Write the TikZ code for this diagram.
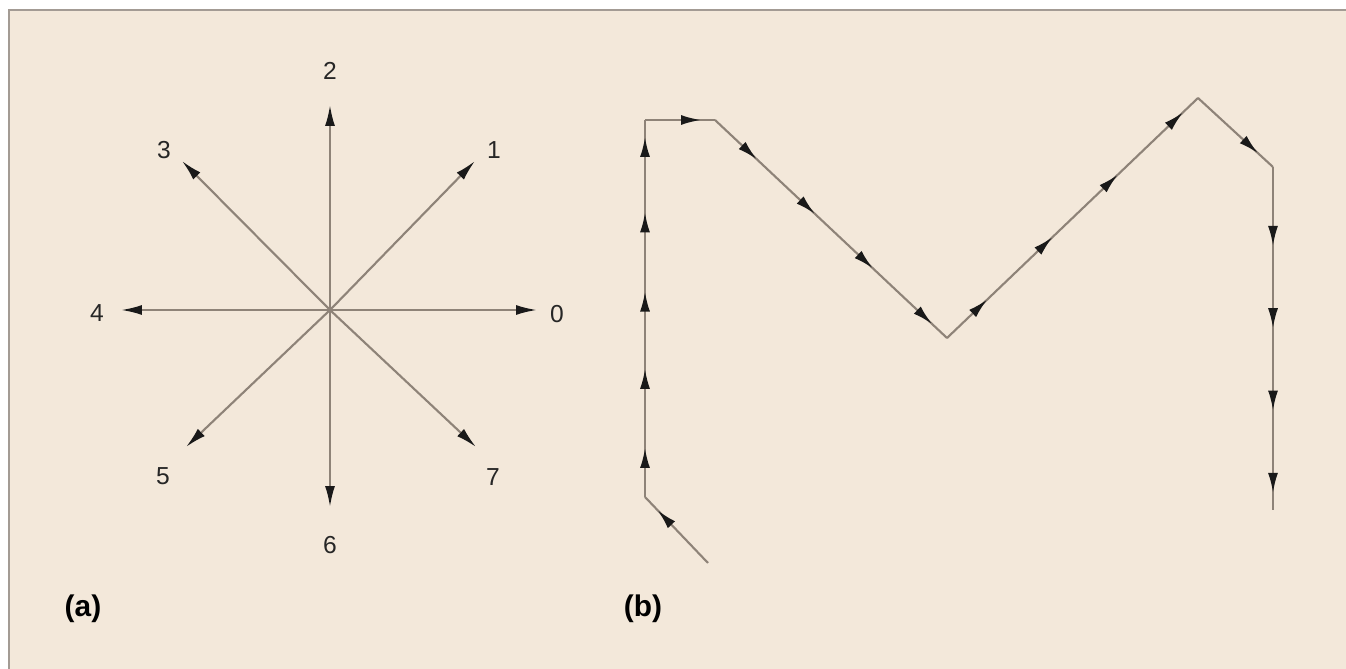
\documentclass[tikz,border=0pt]{standalone}
\usepackage{fontspec}
\setmainfont{Liberation Sans}
\usetikzlibrary{arrows.meta,decorations.markings}
\definecolor{bg}{HTML}{F3E8DA}
\definecolor{ln}{HTML}{8E8378}
\definecolor{frameclr}{HTML}{A39B94}
\begin{document}
\begin{tikzpicture}[x=0.02cm,y=-0.02cm,
  vec/.style={draw=ln, line width=1.2pt, -{Latex[length=4.2mm,width=2mm,color=black!90]}},
  chainln/.style={draw=ln, line width=1.2pt},
  hm/.style={postaction={decorate,decoration={markings,
      mark=at position #1 with {\arrow{Latex[length=4mm,width=2mm,color=black!90]}}}}},
  lbl/.style={font=\fontsize{14}{16}\selectfont, text=black!85, inner sep=0pt},
  sub/.style={font=\bfseries\fontsize{17}{19}\selectfont, text=black, inner sep=0pt}]
\useasboundingbox (0,0) rectangle (1346,669);
\fill[white] (0,0) rectangle (1346,669);
\fill[bg] (9,10) rectangle (1346,669);
\draw[frameclr, line width=1.7pt] (9,669) -- (9,10) -- (1346,10);

% (a) directions
\coordinate (c) at (330,310);
\coordinate (t0) at (537,310);
\coordinate (t1) at (475,161);
\coordinate (t2) at (330,105);
\coordinate (t3) at (182,161);
\coordinate (t4) at (121,310);
\coordinate (t5) at (186,447);
\coordinate (t6) at (330,507);
\coordinate (t7) at (476,447);
\foreach \i in {0,...,7} {\draw[vec] (c) -- (t\i);}
\node[lbl] (l0) at (557,314) {0};
\node[lbl] (l1) at (494,150) {1};
\node[lbl] (l2) at (330,71) {2};
\node[lbl] (l3) at (164,150) {3};
\node[lbl] (l4) at (97,313) {4};
\node[lbl] (l5) at (163,476) {5};
\node[lbl] (l6) at (330,545) {6};
\node[lbl] (l7) at (493,477) {7};
\node[sub] (la) at (83,609) {(a)};

% (b) chain
\coordinate (v0) at (708,563);
\coordinate (v1) at (645,497);
\coordinate (v2) at (645,120);
\coordinate (v3) at (715,120);
\coordinate (v4) at (947,338);
\coordinate (v5) at (1198,98);
\coordinate (v6) at (1273,167);
\coordinate (v7) at (1273,510);
\draw[chainln, hm=0.8] (v0) -- (v1);
\draw[chainln, hm=0.13, hm=0.34, hm=0.545, hm=0.755, hm=0.955] (v1) -- (v2);
\draw[chainln, hm=0.8] (v2) -- (v3);
\draw[chainln, hm=0.18, hm=0.43, hm=0.68, hm=0.935] (v3) -- (v4);
\draw[chainln, hm=0.16, hm=0.42, hm=0.68, hm=0.94] (v4) -- (v5);
\draw[chainln, hm=0.8] (v5) -- (v6);
\draw[chainln, hm=0.23, hm=0.47, hm=0.71, hm=0.95] (v6) -- (v7);
\node[sub] (lb) at (643,609) {(b)};
\end{tikzpicture}
\end{document}
